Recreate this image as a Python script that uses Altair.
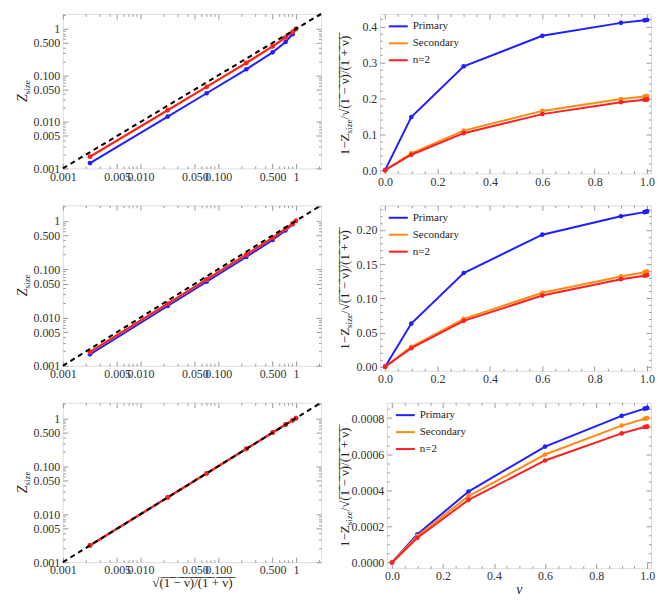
import json
import altair as alt
import pandas as pd

FONT = "Liberation Serif"
SERIES = ["Primary", "Secondary", "n=2"]
COLORS = ["#1f1fff", "#ff8a14", "#ff1f1f"]
FRAME = "#9a9a9a"

# velocities and sqrt((1-v)/(1+v))
V = [0.0, 0.1, 0.3, 0.6, 0.9, 0.99, 0.999, 0.99999]
X_SQRT = [1.0, 0.9045, 0.7338, 0.5, 0.2294, 0.07089, 0.02237, 0.002236]

# row 1: 1 - Z/sqrt(...) and Z_size
F1_PRIMARY = [0, 0.148, 0.289, 0.374, 0.410, 0.417, 0.418, 0.418]
F1_SECONDARY = [0, 0.047, 0.110, 0.165, 0.198, 0.205, 0.206, 0.206]
F1_N2 = [0, 0.043, 0.103, 0.156, 0.189, 0.196, 0.197, 0.197]
Z1_PRIMARY = [1.0, 0.7706, 0.5217, 0.313, 0.1353, 0.04133, 0.01302, 0.001301]
Z1_SECONDARY = [1.0, 0.8620, 0.6531, 0.4175, 0.1840, 0.05636, 0.01776, 0.001775]
Z1_N2 = [1.0, 0.8656, 0.6582, 0.422, 0.1860, 0.05700, 0.01796, 0.001796]

# row 2
F2_PRIMARY = [0, 0.063, 0.137, 0.193, 0.220, 0.226, 0.227, 0.227]
F2_SECONDARY = [0, 0.029, 0.070, 0.108, 0.132, 0.138, 0.139, 0.139]
F2_N2 = [0, 0.027, 0.067, 0.104, 0.128, 0.133, 0.134, 0.134]
Z2_PRIMARY = [1.0, 0.8475, 0.6333, 0.4035, 0.1789, 0.05487, 0.01729, 0.001728]
Z2_SECONDARY = [1.0, 0.8783, 0.6824, 0.446, 0.1991, 0.06111, 0.01926, 0.001925]
Z2_N2 = [1.0, 0.8801, 0.6846, 0.448, 0.2000, 0.06146, 0.01937, 0.001936]

# row 3
F3_PRIMARY = [0, 0.000156, 0.000393, 0.000642, 0.000812, 0.000852, 0.000855, 0.000856]
F3_SECONDARY = [0, 0.000147, 0.000368, 0.000598, 0.000758, 0.000796, 0.000799, 0.000800]
F3_N2 = [0, 0.000137, 0.000347, 0.000565, 0.000715, 0.000750, 0.000752, 0.000753]
Z3_PRIMARY = [1.0, 0.904359, 0.733512, 0.499679, 0.229214, 0.070830, 0.022351, 0.0022341]
Z3_SECONDARY = [1.0, 0.904367, 0.733530, 0.499701, 0.229226, 0.070834, 0.022352, 0.0022342]
Z3_N2 = [1.0, 0.904376, 0.733545, 0.499718, 0.229236, 0.070837, 0.022353, 0.0022343]

DIAG = [0.001, 2.1]

# ticks
LOG_MAJOR = [0.001, 0.005, 0.01, 0.05, 0.1, 0.5, 1]
LOG_LABELS = ["0.001", "0.005", "0.010", "0.050", "0.100", "0.500", "1"]
LOG_ALL = [0.001, 0.002, 0.003, 0.004, 0.005, 0.006, 0.007, 0.008, 0.009,
           0.01, 0.02, 0.03, 0.04, 0.05, 0.06, 0.07, 0.08, 0.09,
           0.1, 0.2, 0.3, 0.4, 0.5, 0.6, 0.7, 0.8, 0.9, 1, 2]
V_MAJOR = [0.0, 0.2, 0.4, 0.6, 0.8, 1.0]
V_LABELS = ["0.0", "0.2", "0.4", "0.6", "0.8", "1.0"]
V_ALL = [round(0.05 * i, 2) for i in range(21)]
Y1_MAJOR = [0.0, 0.1, 0.2, 0.3, 0.4]
Y1_LABELS = ["0.0", "0.1", "0.2", "0.3", "0.4"]
Y1_ALL = [round(0.02 * i, 2) for i in range(22)]
Y2_MAJOR = [0.0, 0.05, 0.1, 0.15, 0.2]
Y2_LABELS = ["0.00", "0.05", "0.10", "0.15", "0.20"]
Y2_ALL = [round(0.01 * i, 2) for i in range(24)]
Y3_MAJOR = [0.0, 0.0002, 0.0004, 0.0006, 0.0008]
Y3_LABELS = ["0.0000", "0.0002", "0.0004", "0.0006", "0.0008"]
Y3_ALL = [round(0.00005 * i, 6) for i in range(18)]

LW = 259
MAJ_LEN, MIN_LEN = 5, 2.5


def minor_of(all_vals, major):
    return [v for v in all_vals if v not in major]


def overline(s):
    return "".join(c + "\u0305" for c in s)


SQRT_TITLE = "\u221a" + overline("(1 \u2212 \u03bd)/(1 + \u03bd)")


def label_axis(major, labels, title=None, **kw):
    expr = f"{json.dumps(labels)}[indexof({json.dumps(major)}, datum.value)] || ''"
    args = dict(
        values=major, labelExpr=expr, ticks=False, labelOverlap=False,
        labelFlush=False, labelFont=FONT, labelFontSize=12, labelColor="#333333",
        domain=False, grid=False, labelPadding=3,
    )
    if title is None:
        args["title"] = None
    else:
        args.update(title=title, titleFont=FONT, titleFontWeight="normal",
                    titleColor="#222222")
    args.update(kw)
    return alt.Axis(**args)


def tick_axis(vals, length, orient):
    return alt.Axis(
        values=vals, orient=orient, offset=-length, tickSize=length,
        tickColor=FRAME, tickWidth=1, labels=False, domain=False, grid=False,
        title=None,
    )


def tick_layers(df, xf, yf, xs, ys, xmaj, xmin, ymaj, ymin):
    out = []
    for (xv, yv, ln, xo, yo) in [
        (xmaj, ymaj, MAJ_LEN, "bottom", "left"),
        (xmin, ymin, MIN_LEN, "bottom", "left"),
        (xmaj, ymaj, MAJ_LEN, "top", "right"),
        (xmin, ymin, MIN_LEN, "top", "right"),
    ]:
        out.append(
            alt.Chart(df).mark_point(opacity=0, size=1).encode(
                x=alt.X(xf, scale=xs, axis=tick_axis(xv, ln, xo)),
                y=alt.Y(yf, scale=ys, axis=tick_axis(yv, ln, yo)),
            )
        )
    return out


def text_layer(txt, x, y, size, align, italic=False):
    return alt.Chart(alt.Data(values=[{}])).mark_text(
        text=txt, angle=270, align=align, baseline="alphabetic",
        font=FONT, fontSize=size, fontStyle="italic" if italic else "normal",
        color="#222222",
    ).encode(x=alt.value(x), y=alt.value(y))


def left_panel(zs, show_xtitle, lh):
    xs = alt.Scale(type="log", domain=[0.001, 2.1], nice=False)
    ys = alt.Scale(type="log", domain=[0.001, 2.1], nice=False)
    xaxis = label_axis(LOG_MAJOR, LOG_LABELS,
                       title=SQRT_TITLE if show_xtitle else None,
                       titleFontSize=13, titlePadding=1,
                       labelPadding=2 if show_xtitle else 3)
    yaxis = label_axis(LOG_MAJOR, LOG_LABELS)
    layers = []
    for i, (name, color, z) in enumerate(zip(SERIES, COLORS, zs)):
        df = pd.DataFrame({"x": X_SQRT, "z": z, "series": name})
        layers.append(
            alt.Chart(df).mark_line(
                color=color, strokeWidth=2,
                point=alt.OverlayMarkDef(color=color, size=22, filled=True, opacity=1),
            ).encode(
                x=alt.X("x:Q", scale=xs, axis=xaxis if i == 0 else None),
                y=alt.Y("z:Q", scale=ys, axis=yaxis if i == 0 else None),
            )
        )
    ddf = pd.DataFrame({"x": DIAG, "z": DIAG})
    diag = alt.Chart(ddf).mark_line(
        color="black", strokeDash=[5, 4], strokeWidth=2
    ).encode(x=alt.X("x:Q", scale=xs, axis=None), y=alt.Y("z:Q", scale=ys, axis=None))
    layers.append(diag)
    lminor = minor_of(LOG_ALL, LOG_MAJOR)
    layers += tick_layers(ddf, "x:Q", "z:Q", xs, ys, LOG_MAJOR, lminor, LOG_MAJOR, lminor)
    p = lh / 2 + 3
    layers.append(text_layer("Z", -36, p, 14, "right", italic=True))
    layers.append(text_layer("size", -33, p, 9, "left"))
    return alt.layer(*layers).resolve_axis(x="independent", y="independent").properties(
        width=LW, height=lh)


def right_panel(fs, ydomain, ymajor, ylabels, yall, show_xtitle, rw, rh, tx):
    xs = alt.Scale(domain=[-0.02, 1.015], nice=False, zero=False)
    ys = alt.Scale(domain=ydomain, nice=False, zero=False)
    xaxis = label_axis(V_MAJOR, V_LABELS,
                       title="\u03bd" if show_xtitle else None,
                       titleFontSize=14, titleFontStyle="italic", titlePadding=1,
                       labelPadding=2 if show_xtitle else 3)
    yaxis = label_axis(ymajor, ylabels)
    cscale = alt.Scale(domain=SERIES, range=COLORS)
    legend = alt.Legend(
        orient="none", legendX=8, legendY=2, title=None,
        symbolType="stroke", symbolStrokeWidth=2,
        symbolSize=361, labelFont=FONT, labelFontSize=11, labelColor="#222222",
        rowPadding=1, padding=0, labelOffset=4,
    )
    layers = []
    df0 = None
    for i, (name, f) in enumerate(zip(SERIES, fs)):
        df = pd.DataFrame({"v": V, "f": f, "series": name})
        if df0 is None:
            df0 = df
        layers.append(
            alt.Chart(df).mark_line(
                strokeWidth=2,
                point=alt.OverlayMarkDef(size=22, filled=True, opacity=1),
            ).encode(
                x=alt.X("v:Q", scale=xs, axis=xaxis if i == 0 else None),
                y=alt.Y("f:Q", scale=ys, axis=yaxis if i == 0 else None),
                color=alt.Color("series:N", scale=cscale, legend=legend),
            )
        )
    layers += tick_layers(df0, "v:Q", "f:Q", xs, ys, V_MAJOR, minor_of(V_ALL, V_MAJOR),
                          ymajor, minor_of(yall, ymajor))
    # y title: 1-Z_size/sqrt((1-v)/(1+v))
    p = rh / 2 + 40
    layers.append(text_layer("1\u2212Z", tx, p, 13, "right"))
    layers.append(text_layer("size", tx + 3, p, 9, "left"))
    layers.append(text_layer("/" + SQRT_TITLE, tx, p - 14, 13, "left"))
    return alt.layer(*layers).resolve_axis(x="independent", y="independent").properties(
        width=rw, height=rh)


def row(zs, fs, ydomain, ymajor, ylabels, yall, last, rw, tx, lh, rh):
    return alt.hconcat(
        left_panel(zs, last, lh),
        right_panel(fs, ydomain, ymajor, ylabels, yall, last, rw, rh, tx),
        spacing=12,
    ).resolve_scale(color="independent").resolve_legend(color="independent")


chart = alt.vconcat(
    row([Z1_PRIMARY, Z1_SECONDARY, Z1_N2], [F1_PRIMARY, F1_SECONDARY, F1_N2],
        [-0.009, 0.435], Y1_MAJOR, Y1_LABELS, Y1_ALL, False, 272, -31, 155, 160),
    row([Z2_PRIMARY, Z2_SECONDARY, Z2_N2], [F2_PRIMARY, F2_SECONDARY, F2_N2],
        [-0.006, 0.236], Y2_MAJOR, Y2_LABELS, Y2_ALL, False, 272, -31, 161, 166),
    row([Z3_PRIMARY, Z3_SECONDARY, Z3_N2], [F3_PRIMARY, F3_SECONDARY, F3_N2],
        [-0.0000316, 0.000885], Y3_MAJOR, Y3_LABELS, Y3_ALL, True, 265, -38, 160, 166),
    spacing=12,
).resolve_scale(color="independent").resolve_legend(color="independent").properties(
    padding={"left": 7, "top": 0, "right": 0, "bottom": 0}
).configure_view(
    stroke=FRAME, strokeWidth=1
).configure(background="white")

chart.save("out.html", embed_options={"renderer": "svg", "actions": False})
